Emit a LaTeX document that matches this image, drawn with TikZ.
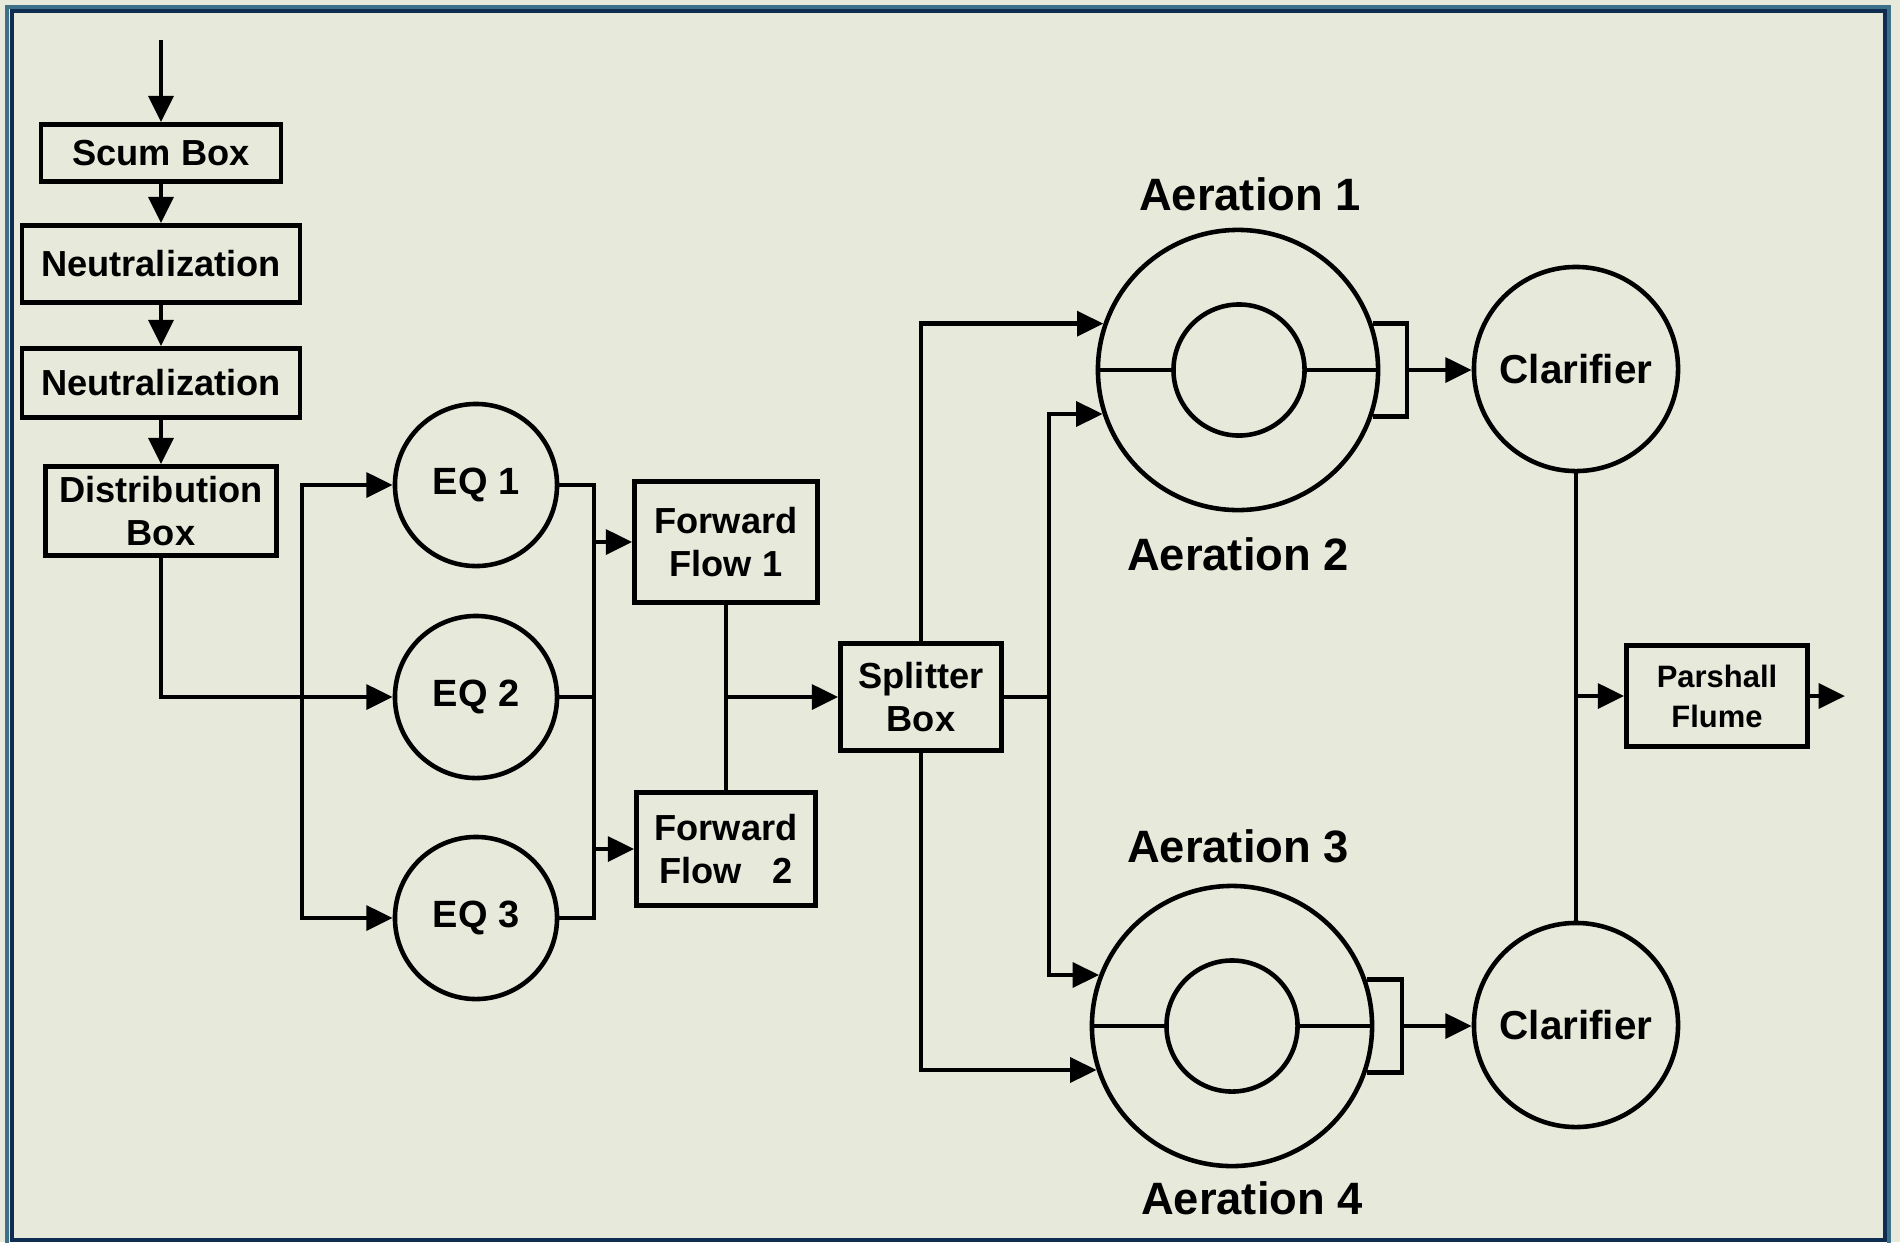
\documentclass[tikz,border=0pt]{standalone}
\usepackage{fontspec}
\setmainfont{Liberation Sans}
\usetikzlibrary{positioning,arrows.meta,calc,shapes}
\definecolor{paper}{HTML}{E7E9DB}
\definecolor{frameout}{HTML}{3D7189}
\definecolor{framein}{HTML}{0E2D50}
\tikzset{
    unit/.style = {
        draw,
        shape=rectangle,
        line width=1.3pt,
        align=center,
        inner sep=0pt,
        font=\bfseries\fontsize{10.3}{12.4}\selectfont
    },
    tank/.style = {
        draw,
        shape=circle,
        line width=1.3pt,
        minimum size=1.62cm,
        inner sep=0pt,
        font=\bfseries\fontsize{10.8}{13}\selectfont
    },
    clarifier/.style = {
        tank,
        minimum size=2.04cm,
        font=\bfseries\fontsize{11.5}{14}\selectfont
    },
    basin/.style = {
        draw,
        shape=circle,
        line width=1.3pt,
        minimum size=2.8cm,
        inner sep=0pt
    },
    core/.style = {
        draw,
        shape=circle,
        line width=1.3pt,
        minimum size=1.31cm,
        inner sep=0pt
    },
    caption/.style = {
        font=\bfseries\fontsize{12.9}{15}\selectfont
    },
    >={Triangle[length=7.5pt,width=7pt]},
}

\begin{document}
\begin{tikzpicture}[x=0.01cm, y=-0.01cm, line width=1.3pt]
            \useasboundingbox (0,0) rectangle (1900,1242);
            \fill[paper] (0,0) rectangle (1900,1242);
            \draw[frameout, line width=1.2pt] (7,7) rectangle (1889,1245);
            \draw[framein, line width=1.3pt] (12,11) rectangle (1885,1240);

            \node[unit, minimum width=2.40cm, minimum height=0.57cm] (scum) at (161,153) {Scum Box};
            \node[unit, minimum width=2.78cm, minimum height=0.77cm] (neut1) at (161,264) {Neutralization};
            \node[unit, minimum width=2.78cm, minimum height=0.69cm] (neut2) at (161,383) {Neutralization};
            \node[unit, minimum width=2.31cm, minimum height=0.89cm] (distbox) at (161,511) {Distribution\\Box};

            \node[tank] (eq1) at (476,485) {EQ 1};
            \node[tank] (eq2) at (476,697) {EQ 2};
            \node[tank] (eq3) at (476,918) {EQ 3};

            \node[unit, minimum width=1.83cm, minimum height=1.21cm] (ff1) at (726,542) {Forward\\Flow 1};
            \node[unit, minimum width=1.79cm, minimum height=1.13cm] (ff2) at (726,849) {Forward\\Flow\ \ \ 2};
            \node[unit, minimum width=1.61cm, minimum height=1.07cm] (split) at (921,697) {Splitter\\Box};

            \node[basin] (aer1) at (1238,370) {};
            \node[core] (aer1in) at (1239,370) {};
            \node[basin] (aer3) at (1232,1026) {};
            \node[core] (aer3in) at (1232,1026) {};

            \node[caption] (lab1) at (1250,194) {Aeration 1};
            \node[caption] (lab2) at (1238,554) {Aeration 2};
            \node[caption] (lab3) at (1238,846) {Aeration 3};
            \node[caption] (lab4) at (1252,1198) {Aeration 4};

            \node[clarifier] (clar1) at (1576,369) {Clarifier};
            \node[clarifier] (clar2) at (1576,1025) {Clarifier};
            \node[unit, minimum width=1.81cm, minimum height=1.01cm, font=\bfseries\fontsize{8.8}{11.4}\selectfont] (parshall) at (1717,696) {Parshall\\Flume};

            \coordinate (inlet) at (161,40);
            \coordinate (lbus) at (302,697);
            \coordinate (rbus1) at (594,485);
            \coordinate (rbus3) at (594,918);
            \coordinate (fjoin) at (726,697);
            \coordinate (sbus) at (1049,697);
            \coordinate (br1) at (1407,370);
            \coordinate (br3) at (1402,1026);
            \coordinate (cjoin) at (1576,696);
            \coordinate (outlet) at (1845,696);

            \path[draw, ->] (inlet) -- (scum);
            \path[draw, ->] (scum) -- (neut1);
            \path[draw, ->] (neut1) -- (neut2);
            \path[draw, ->] (neut2) -- (distbox);

            \path[draw, ->] (distbox) |- (eq2);
            \path[draw, ->] (lbus) |- (eq1);
            \path[draw, ->] (lbus) |- (eq3);

            \path[draw] (eq1) -- (rbus1) -- (rbus3) -- (eq3);
            \path[draw] (eq2) -- (eq2 -| rbus1);
            \path[draw, ->] (rbus1 |- ff1) -- (ff1);
            \path[draw, ->] (rbus1 |- ff2) -- (ff2);

            \path[draw] (ff1) -- (ff2);
            \path[draw, ->] (fjoin) -- (split);

            \path[draw, ->] (split) |- (aer1.161);
            \path[draw, ->] (split) |- (aer3.198);
            \path[draw] (split) -- (sbus);
            \path[draw, ->] (sbus) |- (aer1.198.5);
            \path[draw, ->] (sbus) |- (aer3.159);

            % baffles inside the aeration basins
            \path[draw] (aer1.west) -- (aer1in.west);
            \path[draw] (aer1in.east) -- (aer1.east);
            \path[draw] (aer3.west) -- (aer3in.west);
            \path[draw] (aer3in.east) -- (aer3.east);

            \path[draw] (aer1.19) -| (br1) |- (aer1.-19);
            \path[draw] (aer3.19) -| (br3) |- (aer3.-19);
            \path[draw, ->] (br1) -- (br1 -| clar1.west);
            \path[draw, ->] (br3) -- (br3 -| clar2.west);

            \path[draw] (clar1) -- (clar2);
            \path[draw, ->] (cjoin) -- (parshall);
            \path[draw, ->] (parshall) -- (outlet);

\end{tikzpicture}
\end{document}
